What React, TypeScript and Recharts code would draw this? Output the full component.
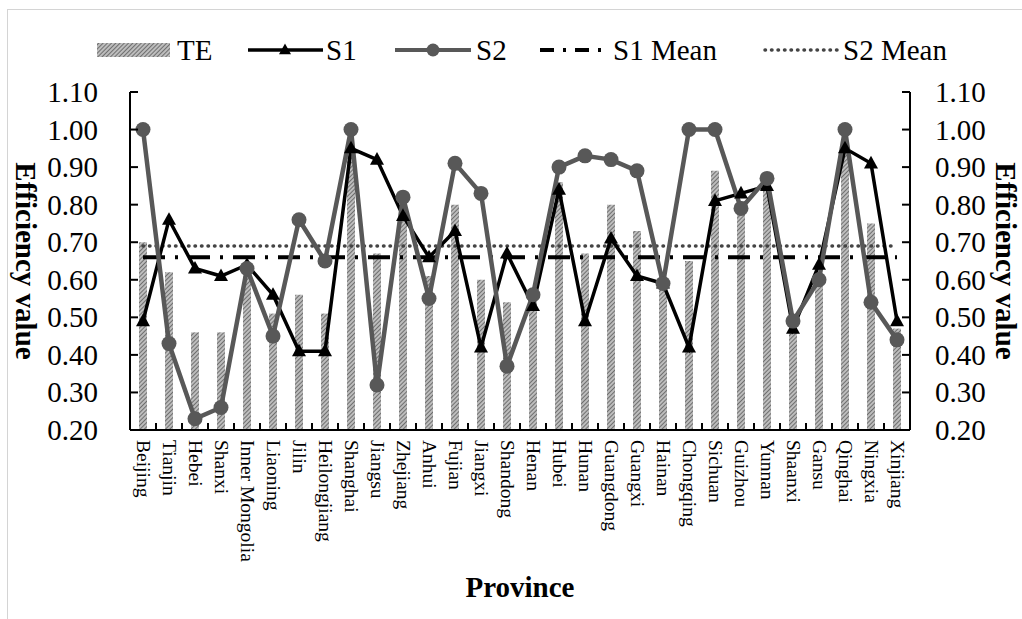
import {
  Bar,
  ComposedChart,
  Label,
  Line,
  XAxis,
  YAxis,
} from "recharts";

const PROVINCES = [
  "Beijing", "Tianjin", "Hebei", "Shanxi", "Inner Mongolia", "Liaoning", "Jilin",
  "Heilongjiang", "Shanghai", "Jiangsu", "Zhejiang", "Anhui", "Fujian", "Jiangxi",
  "Shandong", "Henan", "Hubei", "Hunan", "Guangdong", "Guangxi", "Hainan",
  "Chongqing", "Sichuan", "Guizhou", "Yunnan", "Shaanxi", "Gansu", "Qinghai",
  "Ningxia", "Xinjiang",
];

const TE = [
  0.70, 0.62, 0.46, 0.46, 0.61, 0.51, 0.56, 0.51, 0.95, 0.67, 0.77, 0.61, 0.80, 0.60,
  0.54, 0.55, 0.86, 0.67, 0.80, 0.73, 0.60, 0.65, 0.89, 0.81, 0.85, 0.47, 0.60, 0.95,
  0.75, 0.47,
];

const S1 = [
  0.49, 0.76, 0.63, 0.61, 0.64, 0.56, 0.41, 0.41, 0.95, 0.92, 0.77, 0.66, 0.73, 0.42,
  0.67, 0.53, 0.84, 0.49, 0.71, 0.61, 0.59, 0.42, 0.81, 0.83, 0.85, 0.47, 0.64, 0.95,
  0.91, 0.49,
];

const S2 = [
  1.00, 0.43, 0.23, 0.26, 0.63, 0.45, 0.76, 0.65, 1.00, 0.32, 0.82, 0.55, 0.91, 0.83,
  0.37, 0.56, 0.90, 0.93, 0.92, 0.89, 0.59, 1.00, 1.00, 0.79, 0.87, 0.49, 0.60, 1.00,
  0.54, 0.44,
];

const S1_MEAN = 0.66;
const S2_MEAN = 0.69;

const Y_TICKS = [0.2, 0.3, 0.4, 0.5, 0.6, 0.7, 0.8, 0.9, 1.0, 1.1];

const W = 1022;
const H = 619;
const LEFT_W = 130;
const RIGHT_W = 112;
const TOP = 92;
const X_AXIS_H = 189;
const PLOT_W = W - LEFT_W - RIGHT_W;
const BAND = PLOT_W / PROVINCES.length;

const SERIF = '"Liberation Serif", "Times New Roman", serif';
const GREY = "#585858";

const rows = PROVINCES.map((name, i) => ({
  name,
  te: TE[i],
  s1: S1[i],
  s2: S2[i],
  s1Mean: S1_MEAN,
  s2Mean: S2_MEAN,
}));

// ticks point into the plot, labels sit outside
const YTick = ({ x, y, payload, side }: any) => {
  const dir = side === "left" ? 1 : -1;
  return (
    <g>
      <line x1={x} x2={x + dir * 8} y1={y} y2={y} stroke="#000" strokeWidth={2} />
      <text
        x={side === "left" ? x - 32 : x + 25}
        y={y}
        textAnchor={side === "left" ? "end" : "start"}
        dominantBaseline="central"
        fontFamily={SERIF}
        fontSize={29}
        fill="#000"
      >
        {Number(payload.value).toFixed(2)}
      </text>
    </g>
  );
};

const XTick = ({ x, y, payload }: any) => {
  const bx = x - BAND / 2;
  return (
    <g>
      <line x1={bx} x2={bx} y1={y} y2={y - 7} stroke="#000" strokeWidth={2} />
      <text
        x={x}
        y={y + 10}
        transform={`rotate(90, ${x}, ${y + 10})`}
        textAnchor="start"
        dominantBaseline="central"
        fontFamily={SERIF}
        fontSize={19.5}
        fill="#000"
      >
        {payload.value}
      </text>
    </g>
  );
};

const Triangle = ({ cx, cy, size = 12, fill = "#000" }: any) => {
  if (cx == null || cy == null) return null;
  const h = size * 0.9;
  return (
    <polygon
      points={`${cx},${cy - h * 0.6} ${cx - size / 2},${cy + h * 0.4} ${cx + size / 2},${cy + h * 0.4}`}
      fill={fill}
    />
  );
};

const AxisTitle = ({ viewBox, dx }: any) => {
  const cx = viewBox.x + dx;
  const cy = viewBox.y + viewBox.height / 2;
  return (
    <text
      x={cx}
      y={cy}
      transform={`rotate(90, ${cx}, ${cy})`}
      textAnchor="middle"
      dominantBaseline="central"
      fontFamily={SERIF}
      fontWeight="bold"
      fontSize={29}
      fill="#000"
    >
      Efficiency value
    </text>
  );
};

const legendText: React.CSSProperties = {
  position: "absolute",
  top: 50,
  transform: "translateY(-50%)",
  fontFamily: SERIF,
  fontSize: 29,
  lineHeight: 1,
  color: "#000",
  whiteSpace: "nowrap",
};

function Legend() {
  const sym = (left: number, width: number, child: React.ReactNode) => (
    <svg
      style={{ position: "absolute", left, top: 40 }}
      width={width}
      height={20}
    >
      {child}
    </svg>
  );
  return (
    <>
      {sym(97, 73, <rect x={0} y={3} width={73} height={14} fill="url(#hatchLegend)" />)}
      <div style={{ ...legendText, left: 177 }}>TE</div>
      {sym(
        248,
        75,
        <>
          <line x1={0} x2={75} y1={10} y2={10} stroke="#000" strokeWidth={3.5} />
          <Triangle cx={37} cy={10} size={12} />
        </>
      )}
      <div style={{ ...legendText, left: 326 }}>S1</div>
      {sym(
        395,
        76,
        <>
          <line x1={0} x2={76} y1={10} y2={10} stroke={GREY} strokeWidth={4} />
          <circle cx={38} cy={10} r={6.5} fill={GREY} />
        </>
      )}
      <div style={{ ...legendText, left: 476 }}>S2</div>
      {sym(
        540,
        66,
        <line x1={0} x2={66} y1={10} y2={10} stroke="#000" strokeWidth={4} strokeDasharray="14 9 3 9" />
      )}
      <div style={{ ...legendText, left: 613 }}>S1 Mean</div>
      {sym(
        763,
        78,
        <line x1={2} x2={78} y1={10} y2={10} stroke="#444" strokeWidth={3.5} strokeLinecap="round" strokeDasharray="0.5 6" />
      )}
      <div style={{ ...legendText, left: 843 }}>S2 Mean</div>
    </>
  );
}

const HatchDef = ({ id }: { id: string }) => (
  <pattern id={id} patternUnits="userSpaceOnUse" width={3} height={3} patternTransform="rotate(45)">
    <rect width={3} height={3} fill="#bdbdbd" />
    <line x1={0} y1={0} x2={0} y2={3} stroke="#616161" strokeWidth={1.7} />
  </pattern>
);

export default function App() {
  return (
    <div
      style={{
        position: "fixed",
        left: 0,
        top: 0,
        width: W,
        height: H,
        background: "#fff",
        overflow: "hidden",
      }}
    >
      <div
        style={{
          position: "absolute",
          left: 7,
          top: 9,
          width: W,
          height: H,
          borderLeft: "1px solid #d4d4d4",
          borderTop: "1px solid #d4d4d4",
        }}
      />
      <svg width={0} height={0} style={{ position: "absolute" }}>
        <defs>
          <HatchDef id="hatchLegend" />
        </defs>
      </svg>
      <Legend />
      <ComposedChart
        width={W}
        height={H}
        data={rows}
        margin={{ top: TOP, right: 0, bottom: 0, left: 0 }}
        style={{ position: "absolute", left: 0, top: 0 }}
      >
        <defs>
          <HatchDef id="hatch" />
        </defs>
        <XAxis
          dataKey="name"
          interval={0}
          height={X_AXIS_H}
          tickLine={false}
          tickSize={0}
          tickMargin={0}
          axisLine={{ stroke: "#000", strokeWidth: 2 }}
          tick={<XTick />}
        >
          <Label
            value="Province"
            position="insideBottom"
            offset={22}
            style={{ fontFamily: SERIF, fontWeight: "bold", fontSize: 29, fill: "#000" }}
          />
        </XAxis>
        <YAxis
          yAxisId="left"
          orientation="left"
          width={LEFT_W}
          domain={[0.2, 1.1]}
          ticks={Y_TICKS}
          allowDataOverflow
          tickLine={false}
          tickSize={0}
          tickMargin={0}
          axisLine={{ stroke: "#000", strokeWidth: 2 }}
          tick={<YTick side="left" />}
        >
          <Label content={<AxisTitle dx={26} />} />
        </YAxis>
        <YAxis
          yAxisId="right"
          orientation="right"
          width={RIGHT_W}
          domain={[0.2, 1.1]}
          ticks={Y_TICKS}
          allowDataOverflow
          tickLine={false}
          tickSize={0}
          tickMargin={0}
          axisLine={{ stroke: "#000", strokeWidth: 2 }}
          tick={<YTick side="right" />}
        >
          <Label content={<AxisTitle dx={96} />} />
        </YAxis>
        <Bar yAxisId="left" dataKey="te" barSize={8} fill="url(#hatch)" isAnimationActive={false} />
        <Line
          yAxisId="left"
          dataKey="s2Mean"
          stroke="#444"
          strokeWidth={3.5}
          strokeLinecap="round"
          strokeDasharray="0.5 6"
          dot={false}
          activeDot={false}
          isAnimationActive={false}
        />
        <Line
          yAxisId="left"
          dataKey="s1Mean"
          stroke="#000"
          strokeWidth={4}
          strokeDasharray="22 10 3 10"
          dot={false}
          activeDot={false}
          isAnimationActive={false}
        />
        <Line
          yAxisId="left"
          dataKey="s1"
          stroke="#000"
          strokeWidth={3.5}
          dot={(p: any) => <Triangle key={`t${p.index}`} cx={p.cx} cy={p.cy} size={14} />}
          activeDot={false}
          isAnimationActive={false}
        />
        <Line
          yAxisId="left"
          dataKey="s2"
          stroke={GREY}
          strokeWidth={4.5}
          dot={{ r: 7.5, fill: GREY, stroke: GREY, strokeWidth: 0 }}
          activeDot={false}
          isAnimationActive={false}
        />
      </ComposedChart>
    </div>
  );
}
